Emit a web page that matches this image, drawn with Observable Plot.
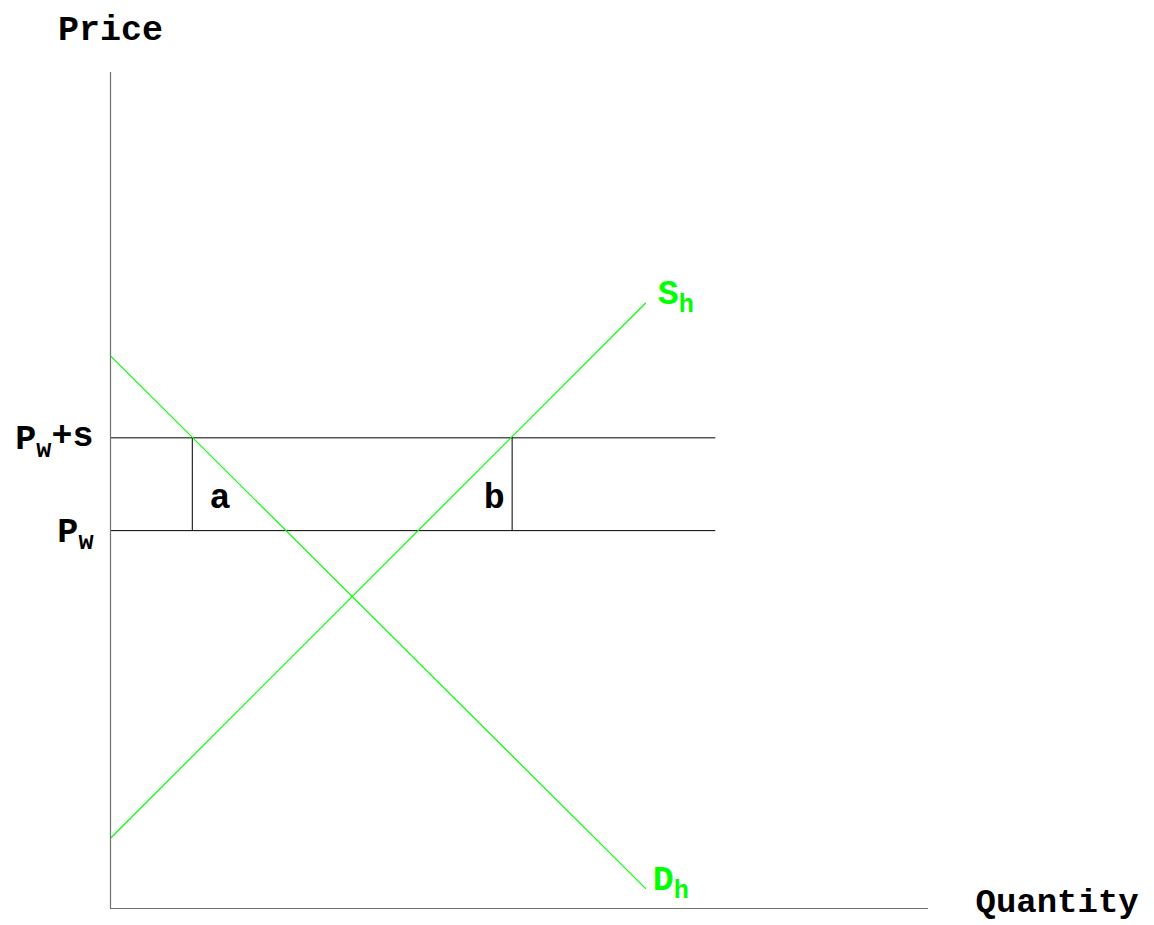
<!DOCTYPE html>
<html>
<head>
<meta charset="utf-8">
<script src="https://cdn.jsdelivr.net/npm/d3@7"></script>
<script src="https://cdn.jsdelivr.net/npm/@observablehq/plot@0.6"></script>
<style>
  html, body { margin: 0; padding: 0; background: #fff; }
</style>
</head>
<body>
<div id="chart"></div>
<script>
// Data (Quantity / Price in arbitrary units)
const supplyQ = [0, 65.4];
const supplyP = [8.4, 72.4];
const demandQ = [0, 65.4];
const demandP = [66.1, 2.4];
const priceLevels = [45.2, 56.3];
const priceLabels = ["P_w", "P_w+s"];
const priceLineEnd = 74;
const boundaryQ = [10.0, 49.1];
const areaLabels = ["a", "b"];
const areaQ = [13.4, 46.9];
const areaP = [49.2, 49.2];
const curveLabels = ["S_h", "D_h"];
const curveLabelQ = [66.9, 66.3];
const curveLabelP = [73.6, 3.5];

const supply = supplyQ.map((q, i) => ({q, p: supplyP[i]}));
const demand = demandQ.map((q, i) => ({q, p: demandP[i]}));
const levels = priceLevels.map((p, i) => ({p, label: priceLabels[i]}));
const areas = areaLabels.map((t, i) => ({t, q: areaQ[i], p: areaP[i]}));
const curves = curveLabels.map((t, i) => ({t, q: curveLabelQ[i], p: curveLabelP[i]}));

const green = "#00ff00";
const fontSize = 35;

const chart = Plot.plot({
  width: 1154,
  height: 925,
  marginLeft: 110,
  marginRight: 226,
  marginTop: 72,
  marginBottom: 17,
  x: {domain: [0, 100], axis: null},
  y: {domain: [0, 100], axis: null},
  style: {fontFamily: "'Courier New', 'Nimbus Mono PS', 'Nimbus Mono L', FreeMono, 'Liberation Mono', monospace", background: "#fff", overflow: "visible"},
  marks: [
    // horizontal price lines
    Plot.ruleY(levels, {y: "p", x1: 0, x2: priceLineEnd, stroke: "#000", strokeWidth: 1}),
    // vertical boundaries
    Plot.ruleX(boundaryQ, {x: d => d, y1: priceLevels[0], y2: priceLevels[1], stroke: "#000", strokeWidth: 1}),
    // curves
    Plot.line(supply, {x: "q", y: "p", stroke: green, strokeWidth: 1.2}),
    Plot.line(demand, {x: "q", y: "p", stroke: green, strokeWidth: 1.2}),
    // axes
    Plot.ruleX([0], {y1: 0, y2: 100, stroke: "#707070", strokeWidth: 1.2}),
    Plot.ruleY([0], {x1: 0, x2: 100, stroke: "#707070", strokeWidth: 1.2}),
    // price tick labels
    Plot.axisY({ticks: priceLevels, tickSize: 0, tickPadding: 17, tickFormat: d => priceLabels[priceLevels.indexOf(d)], label: null, fontSize, fontWeight: "bold", fill: "#000"}),
    // area labels
    Plot.text(areas, {x: "q", y: "p", text: "t", fontSize, fontWeight: "bold", fill: "#000"}),
    // curve labels
    Plot.text(curves, {x: "q", y: "p", text: "t", fontSize, fontWeight: "bold", fill: green, textAnchor: "start"}),
    // axis titles
    Plot.text(["Price"], {frameAnchor: "top-left", dy: -44, lineAnchor: "middle", text: d => d, fontSize, fontWeight: "bold", fill: "#000", textAnchor: "middle"}),
    Plot.text(["Quantity"], {frameAnchor: "bottom-right", dx: 47, dy: -7, lineAnchor: "middle", text: d => d, fontSize: 34, fontWeight: "bold", fill: "#000", textAnchor: "start"})
  ]
});

document.getElementById("chart").appendChild(chart);

// Convert "X_y..." into subscript tspans
d3.select(chart).selectAll("text").each(function () {
  const el = d3.select(this);
  const txt = this.textContent;
  const m = /^([^_]*)_(\w)(.*)$/.exec(txt);
  if (!m) return;
  const tspanExisting = el.select("tspan");
  const target = tspanExisting.empty() ? el : tspanExisting;
  target.text(null);
  target.append("tspan").text(m[1]);
  target.append("tspan").attr("font-size", "0.72em").attr("dy", "0.3em").text(m[2]);
  if (m[3]) target.append("tspan").attr("dy", "-0.3em").text(m[3]);
});
</script>
</body>
</html>
